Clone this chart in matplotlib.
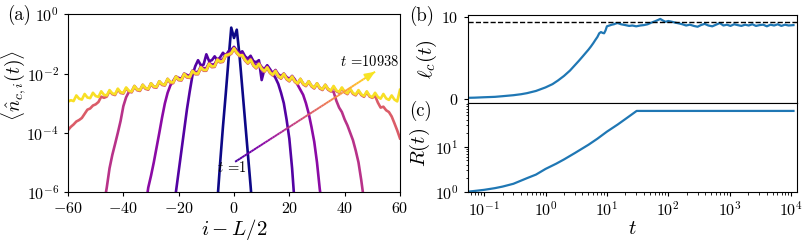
import numpy as np
import matplotlib
matplotlib.use("Agg")
import matplotlib.pyplot as plt
from matplotlib.collections import LineCollection

plt.rcParams['mathtext.fontset'] = 'cm'
plt.rcParams['font.family'] = ['serif']
plt.rcParams['font.serif'] = ['cmr10', 'DejaVu Serif']
plt.rcParams['axes.unicode_minus'] = False
plt.rcParams['axes.formatter.use_mathtext'] = True
plt.rcParams['axes.linewidth'] = 0.8

# ---------------- panel (a) data: log10 <n_{c,i}(t)> per site ----------------
time_fracs = [0.0, 1/7, 2/7, 3/7, 4/7, 0.94]

navy_start = -7
navy_log = [-7.4, -6.3, -5.0, -3.8, -2.7, -1.55, -0.45, -0.8, -0.52, -1.4, -2.5,
            -3.6, -4.7, -5.8, -7.0]

violet_start = -22
violet_log = [-6.8, -6.0, -5.3, -4.6, -3.9, -3.2, -2.6, -2.05, -1.75, -1.55, -1.72,
              -1.70, -1.35, -1.58, -1.55, -1.42, -1.55, -1.45, -1.30, -1.40, -1.25,
              -1.20, -1.10, -1.22, -1.30, -1.25, -1.42, -1.50, -1.40, -1.58, -1.62,
              -1.55, -2.22, -1.85, -1.72, -1.85, -2.0, -2.15, -2.35, -2.65, -3.0,
              -3.55, -4.2, -5.2, -6.5]

purple_start = -32
purple_log = [-6.5, -5.85, -5.45, -5.0, -4.5, -4.0, -3.48, -3.01, -2.65, -2.40, -2.25,
              -2.10, -2.15, -2.17, -2.00, -2.05, -2.08, -1.90, -1.95, -1.95, -1.76,
              -1.82, -1.82, -1.64, -1.70, -1.68, -1.50, -1.55, -1.52, -1.35, -1.33,
              -1.28, -1.12, -1.25, -1.35, -1.34, -1.48, -1.58, -1.50, -1.64, -1.74,
              -1.64, -1.78, -1.86, -1.76, -1.90, -1.98, -1.88, -2.02, -2.09, -2.00,
              -2.12, -2.18, -2.08, -2.20, -2.38, -2.55, -2.72, -3.0, -3.35, -3.8,
              -4.3, -5.0, -5.9, -6.6]

yellow_log = [-2.95, -2.90, -2.93, -2.74, -2.85, -2.88, -2.69, -2.81, -2.83, -2.65,
              -2.76, -2.79, -2.60, -2.72, -2.74, -2.56, -2.67, -2.70, -2.51, -2.63,
              -2.65, -2.47, -2.58, -2.61, -2.42, -2.54, -2.56, -2.38, -2.49, -2.52,
              -2.33, -2.44, -2.45, -2.26, -2.36, -2.38, -2.18, -2.29, -2.30, -2.10,
              -2.20, -2.21, -2.01, -2.11, -2.12, -1.91, -2.00, -2.00, -1.79, -1.88,
              -1.88, -1.67, -1.76, -1.75, -1.53, -1.60, -1.58, -1.38, -1.36, -1.31,
              -1.15,
              -1.29, -1.39, -1.38, -1.54, -1.64, -1.53, -1.71, -1.80, -1.67, -1.84,
              -1.92, -1.79, -1.96, -2.04, -1.91, -2.08, -2.15, -2.01, -2.17, -2.24,
              -2.10, -2.26, -2.33, -2.18, -2.34, -2.40, -2.26, -2.41, -2.48, -2.33,
              -2.48, -2.53, -2.38, -2.52, -2.58, -2.42, -2.57, -2.62, -2.47, -2.61,
              -2.67, -2.51, -2.66, -2.71, -2.56, -2.70, -2.76, -2.60, -2.75, -2.80,
              -2.65, -2.79, -2.85, -2.69, -2.84, -2.89, -2.74, -2.88, -2.94, -2.55]

magenta_left_start = -47
magenta_left_log = [-6.4, -5.85, -5.2, -4.75, -4.38, -4.0, -3.6, -3.1, -2.8, -2.62]
magenta_right_start = 36
magenta_right_log = [-2.62, -2.92, -3.15, -3.30, -3.55, -3.75, -4.0, -4.25, -4.6,
                     -5.0, -5.6, -6.3]

red_left_log = [-3.91, -3.80, -3.72, -3.62, -3.57, -3.50, -3.36, -3.22, -3.18, -3.08,
                -3.04, -2.96, -2.78, -2.82, -2.78]
red_right_start = 50
red_right_log = [-2.82, -2.75, -2.98, -3.15, -3.12, -3.24, -3.30, -3.45, -3.68,
                 -3.92, -4.19]

arrow_start = (0.4, 10**-4.98)
arrow_end = (51.0, 10**-1.94)

# ---------------- panel (b) data ----------------
t_grow = [0.054, 0.07, 0.1, 0.15, 0.2, 0.3, 0.4, 0.5, 0.7, 1.0, 1.3, 1.6, 2.0, 2.5,
          3.0, 3.5, 4.0, 4.5, 5.0, 5.5, 6.0, 6.5, 7.0, 7.5, 8.0, 8.5, 9.0, 9.5, 10.0]
l_grow = [0.18, 0.2, 0.25, 0.3, 0.38, 0.5, 0.62, 0.75, 1.02, 1.45, 1.85, 2.3, 2.85,
          3.5, 4.15, 4.7, 5.2, 5.65, 6.05, 6.45, 6.85, 7.25, 7.6, 8.05, 8.2, 8.1,
          8.05, 8.4, 8.9]
t_plat = [11, 12, 13, 14, 15, 17, 20, 23, 26, 30, 35, 40, 46, 53, 60, 67, 74, 82,
          90, 100, 115, 130, 150, 170, 195, 225, 260, 300, 340, 390, 450, 520, 600,
          690, 790, 900, 1030, 1180, 1350, 1550, 1780, 2040, 2340, 2680, 3070, 3520,
          4030, 4620, 5290, 6060, 6940, 7950, 9100, 10938]
l_plat = [9.0, 9.1, 9.15, 9.25, 9.3, 9.15, 9.05, 8.95, 9.0, 8.9, 9.0, 9.05, 9.15,
          9.35, 9.5, 9.65, 9.8, 9.6, 9.45, 9.55, 9.45, 9.35, 9.25, 9.15, 9.0, 9.1,
          8.95, 8.85, 9.05, 9.2, 9.0, 8.9, 9.1, 9.3, 9.0, 9.1, 8.95, 9.15, 9.05,
          8.95, 9.1, 9.0, 9.15, 8.95, 9.05, 9.1, 8.9, 9.1, 9.0, 9.15, 8.95, 9.1,
          9.0, 9.05]
l_saturation = 9.43

# ---------------- panel (c) data ----------------
t_R = [0.054, 0.07, 0.1, 0.15, 0.2, 0.3, 0.5, 0.7, 1.0, 1.5, 2.0, 3.0, 5.0, 7.0,
       10.0, 15.0, 20.0, 25.0, 30.5, 10938]
R_vals = [1.0, 1.04, 1.1, 1.2, 1.3, 1.5, 2.0, 2.4, 3.2, 4.2, 5.2, 7.2, 11.0, 15.0,
          21.5, 31.0, 41.0, 51.0, 62.0, 62.0]

# ---------------- figure ----------------
fig = plt.figure(figsize=(8.1, 2.44), dpi=100)
ax_a = fig.add_axes([0.0840, 0.2131, 0.4098, 0.7283])
ax_b = fig.add_axes([0.5774, 0.5779, 0.4066, 0.3606])
ax_c = fig.add_axes([0.5774, 0.2143, 0.4066, 0.3636], sharex=ax_b)

cmap = plt.get_cmap('plasma')
lw = 1.9

def seg(start, vals):
    x = np.arange(start, start + len(vals))
    return x, 10 ** np.asarray(vals)

yel_x, yel_y = seg(-60, yellow_log)
curves = []
curves.append(seg(navy_start, navy_log))
curves.append(seg(violet_start, violet_log))
curves.append(seg(purple_start, purple_log))
mx_l, my_l = seg(magenta_left_start, magenta_left_log)
mx_r, my_r = seg(magenta_right_start, magenta_right_log)
core = (yel_x > mx_l[-1]) & (yel_x < mx_r[0])
curves.append((np.concatenate([mx_l, yel_x[core], mx_r]),
               np.concatenate([my_l, yel_y[core], my_r])))
rx_l, ry_l = seg(-60, red_left_log)
rx_r, ry_r = seg(red_right_start, red_right_log)
core = (yel_x > rx_l[-1]) & (yel_x < rx_r[0])
curves.append((np.concatenate([rx_l, yel_x[core], rx_r]),
               np.concatenate([ry_l, yel_y[core] * 0.94, ry_r])))
curves.append((yel_x, yel_y))

for (x, y), f in zip(curves, time_fracs):
    ax_a.plot(x, y, color=cmap(f), lw=lw, solid_joinstyle='round')

ax_a.set_yscale('log')
ax_a.set_xlim(-60, 60)
ax_a.set_ylim(1e-6, 1)
xt = [-60, -40, -20, 0, 20, 40, 60]
ax_a.set_xticks(xt)
ax_a.set_xticklabels([rf'${v}$' for v in xt])
yt = [1e-6, 1e-4, 1e-2, 1]
ax_a.set_yticks(yt)
ax_a.set_yticklabels([r'$10^{-6}$', r'$10^{-4}$', r'$10^{-2}$', r'$10^{0}$'])
ax_a.yaxis.set_minor_locator(matplotlib.ticker.NullLocator())
ax_a.tick_params(labelsize=11.5, length=3, width=0.8)
ax_a.set_xlabel(r'$i - L/2$', fontsize=15, labelpad=1)
ax_a.set_ylabel(r'$\langle \hat{n}_{c,i}(t) \rangle$', fontsize=14)
ax_a.yaxis.set_label_coords(-0.118, 0.6)

# gradient arrow
def to_axes(pt):
    return ((pt[0] + 60) / 120, (np.log10(pt[1]) + 6) / 6)
p0 = np.array(to_axes(arrow_start))
p1 = np.array(to_axes(arrow_end))
n = 60
fr = np.linspace(0, 1, n + 1)
pts = p0[None, :] + fr[:, None] * (p1 - p0)[None, :]
segs = np.stack([pts[:-1], pts[1:]], axis=1)
lc = LineCollection(segs, colors=cmap(np.linspace(0.12, 0.95, n)), lw=1.4,
                    transform=ax_a.transAxes)
ax_a.add_collection(lc)
ax_a.annotate('', xy=tuple(p1), xytext=tuple(p1 - 0.04 * (p1 - p0)),
              xycoords='axes fraction', textcoords='axes fraction',
              arrowprops=dict(arrowstyle='-|>,head_length=0.6,head_width=0.25',
                              color=cmap(0.95), lw=1.3, shrinkA=0, shrinkB=0))
ax_a.text(-0.7, 10**-5.16, r'$t$ =1', fontsize=10.5, ha='center', va='center')
ax_a.text(49.0, 10**-1.60, r'$t$ =10938', fontsize=10.5, ha='center', va='center')
fig.text(0.009, 0.94, '(a)', fontsize=13.5, ha='left', va='center')

# panel (b)
l_t = t_grow + t_plat
l_v = l_grow + l_plat
ax_b.plot(l_t, l_v, color='#1f77b4', lw=1.6)
ax_b.axhline(l_saturation, color='k', ls='--', lw=1.0)
ax_b.set_xscale('log')
ax_b.set_xlim(0.054, 12500)
ax_b.set_ylim(-0.45, 10.28)
ax_b.set_yticks([0, 10])
ax_b.set_yticklabels([r'$0$', r'$10$'])
ax_b.tick_params(axis='x', which='both', bottom=False, labelbottom=False)
ax_b.tick_params(labelsize=11.5, length=3, width=0.8)
ax_b.set_ylabel(r'$\ell_c(t)$', fontsize=15, labelpad=2)
fig.text(0.505, 0.935, '(b)', fontsize=13.5, ha='left', va='center')

# panel (c)
ax_c.plot(t_R, R_vals, color='#1f77b4', lw=1.6)
ax_c.set_yscale('log')
ax_c.set_ylim(1, 93)
ax_c.set_yticks([1, 10])
ax_c.set_yticklabels([r'$10^{0}$', r'$10^{1}$'])
xt_c = [0.1, 1, 10, 100, 1000, 10000]
ax_c.set_xticks(xt_c)
ax_c.set_xticklabels([r'$10^{-1}$', r'$10^{0}$', r'$10^{1}$', r'$10^{2}$',
                      r'$10^{3}$', r'$10^{4}$'])
ax_c.tick_params(labelsize=11.5, length=3, width=0.8)
ax_c.tick_params(which='minor', length=1.8, width=0.6)
ax_c.set_xlabel(r'$t$', fontsize=15, labelpad=1)
ax_c.set_ylabel(r'$R(t)$', fontsize=15, labelpad=2)
fig.text(0.505, 0.545, '(c)', fontsize=13.5, ha='left', va='center')

fig.savefig('out.png', dpi=100)
